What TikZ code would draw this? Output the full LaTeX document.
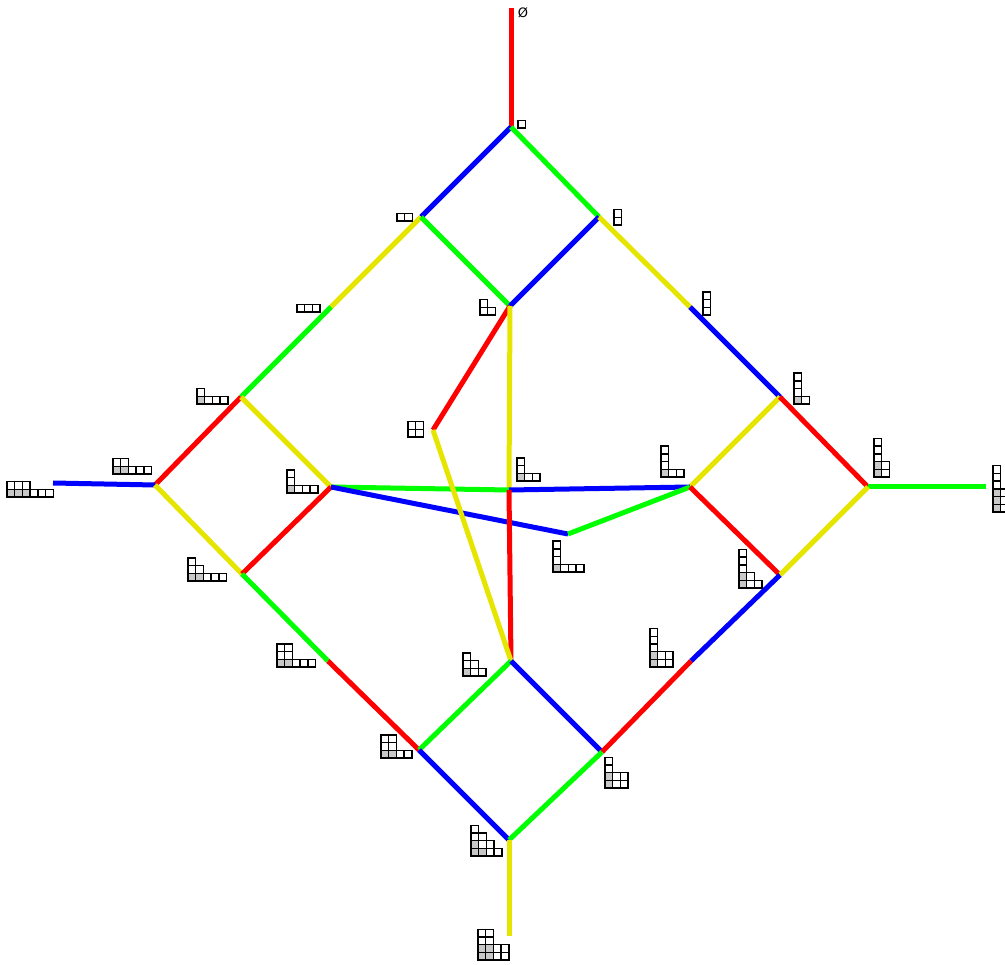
\documentclass[tikz,border=0pt]{standalone}
\usepackage{fontspec}
\newfontfamily\djv{DejaVu Sans}
\definecolor{ered}{RGB}{255,0,0}
\definecolor{eblue}{RGB}{0,0,255}
\definecolor{egreen}{RGB}{0,255,0}
\definecolor{eyellow}{RGB}{229,229,0}
\definecolor{cellgrey}{RGB}{200,200,200}
\newcommand\ydcs{7.7}
\newcommand\YD[3]{%
  \foreach \r [count=\i from 0] in {#3} {
    \foreach \c in {1,...,\r} {
      \draw[cellbox] ({#1+(\c-1)*\ydcs},{#2-\i*\ydcs}) rectangle ++(\ydcs,-\ydcs);
    }
  }%
}
\newcommand\YDgray[3]{%
  \foreach \i/\c in {#3} {
    \fill[cellfill] ({#1+(\c-1)*\ydcs},{#2-\i*\ydcs}) rectangle ++(\ydcs,-\ydcs);
  }%
}
\begin{document}
\begin{tikzpicture}[x=1pt,y=-1pt,
  edge/.style={line width=5pt},
  R/.style={edge,ered}, B/.style={edge,eblue}, G/.style={edge,egreen}, Y/.style={edge,eyellow},
  cellbox/.style={draw=black,line width=1.4pt},
  cellfill/.style={fill=cellgrey}]
\useasboundingbox (0,0) rectangle (1005,965);
% vertices
\coordinate (v0) at (511,8);
\coordinate (v1) at (511,127);
\coordinate (v2) at (421,217);
\coordinate (v3) at (599,217);
\coordinate (v4) at (331,307);
\coordinate (v5) at (510,306);
\coordinate (v6) at (690,307);
\coordinate (v7) at (241,397);
\coordinate (v8) at (433,430);
\coordinate (v9) at (780,397);
\coordinate (v10) at (155,485);
\coordinate (v11) at (331,487);
\coordinate (v12) at (509,490);
\coordinate (v13) at (690,487);
\coordinate (v14) at (868,487);
\coordinate (v15) at (53,483);
\coordinate (v16) at (986,487);
\coordinate (v17) at (568,534);
\coordinate (v18) at (242,574);
\coordinate (v19) at (780,575);
\coordinate (v20) at (328,661);
\coordinate (v21) at (511,661);
\coordinate (v22) at (691,661);
\coordinate (v23) at (419,750);
\coordinate (v24) at (602,752);
\coordinate (v25) at (509,840);
\coordinate (v26) at (509,936);
% edges
\draw[R] (v0) -- (v1);
\draw[B] (v1) -- (v2);
\draw[G] (v1) -- (v3);
\draw[Y] (v2) -- (v4);
\draw[G] (v2) -- (v5);
\draw[B] (v3) -- (v5);
\draw[Y] (v3) -- (v6);
\draw[G] (v4) -- (v7);
\draw[R] (v5) -- (v8);
\draw[Y] (v5) -- (v12);
\draw[B] (v6) -- (v9);
\draw[R] (v7) -- (v10);
\draw[Y] (v7) -- (v11);
\draw[Y] (v9) -- (v13);
\draw[R] (v9) -- (v14);
\draw[B] (v10) -- (v15);
\draw[Y] (v10) -- (v18);
\draw[R] (v11) -- (v18);
\draw[G] (v11) -- (v12);
\draw[B] (v11) -- (v17);
\draw[B] (v12) -- (v13);
\draw[R] (v12) -- (v21);
\draw[Y] (v8) -- (v21);
\draw[G] (v13) -- (v17);
\draw[R] (v13) -- (v19);
\draw[G] (v14) -- (v16);
\draw[Y] (v14) -- (v19);
\draw[G] (v18) -- (v20);
\draw[B] (v19) -- (v22);
\draw[R] (v20) -- (v23);
\draw[G] (v21) -- (v23);
\draw[B] (v21) -- (v24);
\draw[R] (v22) -- (v24);
\draw[B] (v23) -- (v25);
\draw[G] (v24) -- (v25);
\draw[Y] (v25) -- (v26);
% labels
\node[anchor=center,inner sep=0pt,font=\djv\fontsize{13}{15}\selectfont] (lempty) at (523,12.5) {Ø};
\YD{518}{128}{1}
\YD{397}{221}{2}
\YD{614}{225}{1,1}
\YD{297}{312}{3}
\YD{480}{315}{2,1}
\YD{703}{315}{1,1,1}
\YDgray{197}{404}{0/1} \YD{197}{404}{4,1}
\YD{408}{437}{2,2}
\YDgray{794}{404}{0/1} \YD{794}{404}{2,1,1,1}
\YDgray{113}{474}{0/1,0/2} \YD{113}{474}{5,2}
\YDgray{287}{493}{0/1} \YD{287}{493}{4,1,1}
\YDgray{517}{481}{0/1} \YD{517}{481}{3,1,1}
\YDgray{661}{477}{0/1} \YD{661}{477}{3,1,1,1}
\YDgray{874}{477}{0/1,1/1} \YD{874}{477}{2,2,1,1,1}
\YDgray{7}{497}{0/1,0/2,0/3} \YD{7}{497}{6,3}
\YDgray{993}{512}{0/1,1/1,2/1} \YD{993}{512}{2,2,2,1,1,1}
\YDgray{553}{572}{0/1} \YD{553}{572}{4,1,1,1}
\YDgray{188}{581}{0/1,0/2} \YD{188}{581}{5,2,1}
\YDgray{739}{588}{0/1,1/1} \YD{739}{588}{3,2,1,1,1}
\YDgray{277}{667}{0/1,0/2} \YD{277}{667}{5,2,2}
\YDgray{463}{676}{0/1} \YD{463}{676}{3,2,1}
\YDgray{650}{667}{0/1,1/1} \YD{650}{667}{3,3,1,1,1}
\YDgray{381}{758}{0/1,0/2} \YD{381}{758}{4,2,2}
\YDgray{605}{788}{0/1,1/1} \YD{605}{788}{3,3,1,1}
\YDgray{471}{856}{0/1,0/2,1/1} \YD{471}{856}{4,3,2,1}
\YDgray{478}{960}{0/1,0/2,1/1,1/2} \YD{478}{960}{4,4,2,2}
\end{tikzpicture}
\end{document}
